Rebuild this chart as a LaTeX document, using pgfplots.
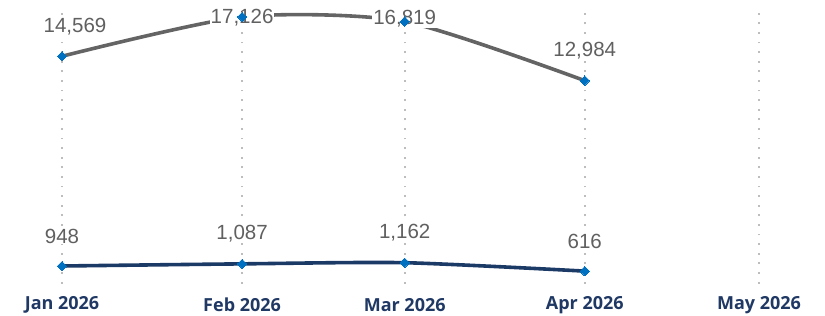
\documentclass[border=0pt]{standalone}
\usepackage{pgfplots}
\pgfplotsset{compat=1.18}
\usepackage{pgfplotstable}
\usepackage{fontspec}
\setmainfont{Liberation Sans}
\newfontfamily\osans{Open Sans}
\definecolor{lblgray}{HTML}{606060}
\definecolor{linegray}{HTML}{646464}
\definecolor{navyline}{HTML}{1B3A66}
\definecolor{mkblue}{HTML}{0070C0}
\definecolor{gridc}{HTML}{BDBDBD}
\definecolor{axnavy}{HTML}{1F3864}

\pgfplotstableread{
x y lbl dx dy
0 14569 14,569 13 30
31 17126 17,126 0 -1
59 16819 16,819 0 3
90 12984 12,984 0 30
}\seriesA
\pgfplotstableread{
x y lbl dx dy
0 948 948 0 30
31 1087 1,087 0 30
59 1162 1,162 0 30
90 616 616 0 30
}\seriesB

\begin{document}
\begin{tikzpicture}
\useasboundingbox (-44.6bp,-32.5bp) rectangle (780.4bp,283.5bp);
\begin{axis}[
  at={(0,0)}, anchor=south west,
  scale only axis, width=731.8bp, height=273.5bp,
  xmin=-3, xmax=123, ymin=-188, ymax=17571,
  axis line style={draw=none},
  major tick length=0pt,
  ytick=\empty,
  xtick={0,31,59,90,120},
  xticklabels={Jan 2026,Feb 2026,Mar 2026,Apr 2026,May 2026},
  xticklabel style={font=\osans\bfseries\fontsize{18bp}{20bp}\selectfont, text=axnavy, anchor=center, yshift=-21.5bp},
  xmajorgrids,
  grid style={gridc, line width=1.8bp, dash pattern=on 1.8bp off 7.8bp},
  clip=false,
]
% data labels (white boxes behind the lines)
\addplot[draw=none, no marks, point meta=explicit symbolic,
  visualization depends on={\thisrow{dx} \as \dx},
  visualization depends on={\thisrow{dy} \as \dy},
  nodes near coords,
  every node near coord/.style={anchor=center, xshift=\dx bp, yshift=\dy bp, fill=white, inner sep=1bp,
    text=lblgray, font=\fontsize{20.5bp}{22bp}\selectfont}]
  table[x=x, y=y, meta=lbl] {\seriesA};
\addplot[draw=none, no marks, point meta=explicit symbolic,
  visualization depends on={\thisrow{dx} \as \dx},
  visualization depends on={\thisrow{dy} \as \dy},
  nodes near coords,
  every node near coord/.style={anchor=center, xshift=\dx bp, yshift=\dy bp, fill=white, inner sep=1bp,
    text=lblgray, font=\fontsize{20.5bp}{22bp}\selectfont}]
  table[x=x, y=y, meta=lbl] {\seriesB};
% lines
\addplot[linegray, line width=3.6bp, smooth, tension=0.42, mark=square*,
  mark options={mkblue, draw=mkblue, fill=mkblue, rotate=45, line width=0pt}, mark size=3.3bp]
  table[x=x, y=y] {\seriesA};
\addplot[navyline, line width=3.6bp, smooth, tension=0.42, mark=square*,
  mark options={mkblue, draw=mkblue, fill=mkblue, rotate=45, line width=0pt}, mark size=3.3bp]
  table[x=x, y=y] {\seriesB};
\end{axis}
\end{tikzpicture}
\end{document}
